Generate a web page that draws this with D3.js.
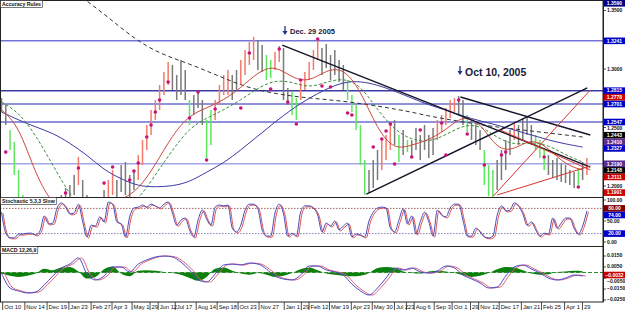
<!DOCTYPE html>
<html>
<head>
<meta charset="utf-8">
<script src="https://cdn.jsdelivr.net/npm/d3@7"></script>
<style>
  body { margin: 0; background: #fff; }
  svg text { font-family: "Liberation Sans", Arial, sans-serif; }
</style>
</head>
<body>
<svg id="chart" width="625" height="311"></svg>
<script>
// weekly price bars (high / low), one entry per bar
const highs = [1.2752,1.2692,1.2479,1.2376,1.2137,1.1923,1.1837,1.1752,1.1666,1.1692,
  1.1752,1.1795,1.1777,1.1880,1.1923,1.1983,1.2008,1.2094,1.2248,1.2051,
  1.1923,1.1880,1.1837,1.1880,1.1966,1.2051,1.2137,1.2051,1.2179,1.2205,
  1.2094,1.2137,1.2265,1.2393,1.2521,1.2650,1.2735,1.2863,1.2974,1.3060,
  1.3034,1.2949,1.3077,1.2992,1.2735,1.2778,1.2803,1.2735,1.2564,1.2650,
  1.2735,1.2863,1.2949,1.2992,1.2949,1.2992,1.3077,1.3163,1.3231,1.3274,
  1.3248,1.3205,1.3120,1.3077,1.3145,1.3197,1.3180,1.2838,1.2803,1.2752,
  1.2889,1.2974,1.3060,1.3163,1.3248,1.3180,1.3214,1.3120,1.3163,1.3077,
  1.3034,1.2906,1.2778,1.2692,1.2521,1.2222,1.2137,1.2222,1.2308,1.2393,
  1.2436,1.2521,1.2564,1.2436,1.2479,1.2393,1.2393,1.2496,1.2436,1.2521,
  1.2436,1.2496,1.2564,1.2607,1.2667,1.2735,1.2752,1.2769,1.2735,1.2607,
  1.2564,1.2521,1.2479,1.2308,1.2179,1.2137,1.2222,1.2308,1.2393,1.2479,
  1.2547,1.2521,1.2581,1.2590,1.2521,1.2436,1.2393,1.2308,1.2265,1.2222,
  1.2239,1.2196,1.2179,1.2137,1.2119,1.2154,1.2205,1.2239];
const lows = [1.2632,1.2521,1.2308,1.2094,1.1837,1.1709,1.1624,1.1538,1.1495,1.1521,
  1.1581,1.1624,1.1641,1.1709,1.1752,1.1837,1.1880,1.1923,1.2008,1.1837,
  1.1752,1.1666,1.1641,1.1709,1.1795,1.1880,1.1923,1.1906,1.1948,1.1923,
  1.1897,1.1966,1.2051,1.2179,1.2308,1.2436,1.2564,1.2650,1.2778,1.2863,
  1.2821,1.2735,1.2778,1.2735,1.2521,1.2607,1.2667,1.2521,1.2239,1.2350,
  1.2564,1.2692,1.2778,1.2778,1.2735,1.2821,1.2863,1.2949,1.3034,1.3077,
  1.2992,1.2974,1.2906,1.2923,1.2992,1.3060,1.2735,1.2692,1.2607,1.2564,
  1.2735,1.2821,1.2906,1.2992,1.3077,1.2949,1.3009,1.2906,1.2949,1.2889,
  1.2821,1.2735,1.2632,1.2479,1.2179,1.1923,1.1940,1.1983,1.2051,1.2137,
  1.2222,1.2308,1.2350,1.2205,1.2265,1.2290,1.2239,1.2308,1.2222,1.2308,
  1.2239,1.2265,1.2393,1.2461,1.2521,1.2581,1.2632,1.2607,1.2521,1.2461,
  1.2393,1.2350,1.2308,1.2008,1.1914,1.1906,1.1966,1.2051,1.2137,1.2265,
  1.2393,1.2350,1.2393,1.2436,1.2350,1.2308,1.2239,1.2137,1.2094,1.2068,
  1.2051,1.2034,1.2025,1.2008,1.1983,1.2008,1.2051,1.2094];
// bar colouring: n = neutral, r = up run, g = down run
const trend = ('nnggg' + 'gggggnnnnn' + 'nnnr' + 'nnnnnn' + 'rr' + 'nnnnn' + 'rrrrrrrr' +
  'nnnng' + 'nnngg' + 'rrrrnn' + 'rrrrnn' + 'ggrrnn' + 'ggrrrrr' + 'nnnnnn' + 'ggggg' +
  'nnnrrr' + 'ngng' + 'nnnnnn' + 'rrrrr' + 'nng' + 'nnnggg' + 'nnnnr' + 'nnnnggg' +
  'nnnnnnn' + 'gnr').split('');

// moving averages, one value every 4 bars
const maLong = [1.4189,1.4060,1.3932,1.3821,1.3693,1.3581,1.3470,1.3351,1.3239,1.3154,
  1.3094,1.3043,1.2983,1.2923,1.2863,1.2821,1.2791,1.2769,1.2752,1.2739,
  1.2724,1.2705,1.2684,1.2658,1.2632,1.2598,1.2573,1.2547,1.2526,1.2504,
  1.2487,1.2470,1.2453,1.2436,1.2419];
const maBlue = [1.2632,1.2564,1.2504,1.2453,1.2367,1.2265,1.2137,1.2060,1.1999,1.1991,
  1.1999,1.2034,1.2119,1.2196,1.2308,1.2427,1.2547,1.2658,1.2752,1.2829,
  1.2889,1.2897,1.2863,1.2812,1.2752,1.2692,1.2650,1.2598,1.2556,1.2521,
  1.2479,1.2436,1.2393,1.2359,1.2333];
const maRed = [1.2650,1.2521,1.2094,1.1837,1.1752,1.1795,1.1837,1.1880,1.1966,1.2179,
  1.2436,1.2607,1.2667,1.2735,1.2838,1.2974,1.3034,1.2923,1.2889,1.2992,
  1.3009,1.2821,1.2479,1.2308,1.2350,1.2393,1.2479,1.2607,1.2547,1.2308,
  1.2308,1.2410,1.2325,1.2179,1.2137];
const maGreen = [1.2718,1.2632,1.2436,1.2179,1.1923,1.1752,1.1752,1.1795,1.1880,1.2094,
  1.2308,1.2496,1.2581,1.2650,1.2735,1.2838,1.2906,1.2889,1.2838,1.2889,
  1.2923,1.2863,1.2650,1.2479,1.2393,1.2376,1.2436,1.2521,1.2521,1.2410,
  1.2350,1.2376,1.2350,1.2265,1.2205];

// fractal dots
const dotBars = [1,15,18,24,26,30,31,32,34,35,36,37,39,44,46,48,50,56,58,63,65,67,69,70,
  74,75,77,81,82,87,89,90,91,92,96,98,103,104,107,109,113,117,118,127,135];
const dotPrices = [1.2290,1.1940,1.2154,1.2025,1.2162,1.2051,1.2128,1.2196,1.2419,1.2521,
  1.2632,1.2735,1.2889,1.2581,1.2803,1.2222,1.2658,1.2667,1.3137,1.2829,1.3171,1.2718,
  1.2530,1.2906,1.3257,1.2855,1.2846,1.2624,1.2607,1.2333,1.2402,1.2470,1.2530,1.2188,
  1.2248,1.2479,1.2538,1.2265,1.2735,1.2444,1.2179,1.2265,1.2290,1.2248,1.1991];

// horizontal levels and trend lines [bar, price, bar, price]
const levels = [1.3241, 1.2815, 1.2701, 1.2547, 1.2190];
const blackTrends = [[65.7,1.3205,137.8,1.2162],[107.4,1.2761,137.8,1.2436],[85.4,1.1931,137.1,1.2838]];
const redTrends = [[115.1,1.1914,137.8,1.2821],[116.7,1.2479,137.8,1.2137],[116,1.1923,137.8,1.2171]];

// price axis
const priceTicks = [1.35, 1.30, 1.25, 1.20];
const priceMarks = [1.3590,1.3241,1.2815,1.2778,1.2701,1.2547,1.2443,1.2410,1.2327,1.2190,1.2148,1.2111,1.1991];

// stochastic %K, one value per bar
const stoch = [71,21,10,10,19,19,21,21,17,26,62,43,45,81,93,83,67,69,90,48,
  12,40,38,60,48,95,90,48,43,12,60,81,83,88,83,90,86,81,90,95,
  69,40,52,57,29,12,52,76,55,40,83,88,86,88,33,24,40,76,90,90,
  79,29,14,14,69,90,67,14,21,14,71,86,86,81,64,24,45,38,50,29,
  38,45,12,19,17,12,50,71,81,83,81,33,24,52,79,43,62,19,48,71,
  48,14,76,64,60,81,90,90,52,14,14,33,24,12,10,14,64,86,74,76,
  93,86,67,40,48,29,14,21,19,57,33,45,57,57,33,19,38,74];
const stochTicks = [100, 50, 0];
const stochLevels = [80, 20];

// MACD and OsMA, one value every 2 bars
const macd = [-0.0005,-0.0141,-0.0168,-0.0186,-0.0177,-0.0114,-0.0032,0.0041,0.0077,0.0132,
  -0.0014,-0.0068,-0.0032,0.0050,0.0050,0.0005,0.0077,0.0114,0.0141,0.0150,
  0.0141,0.0095,0.0023,-0.0068,-0.0086,-0.0014,0.0068,0.0077,0.0068,0.0086,
  0.0077,0.0032,-0.0032,-0.0059,-0.0068,-0.0023,0.0059,0.0059,0.0023,0.0005,
  -0.0023,-0.0105,-0.0168,-0.0205,-0.0141,-0.0050,0.0041,0.0023,0.0041,0.0005,
  -0.0005,0.0014,0.0059,0.0041,-0.0023,-0.0059,-0.0095,-0.0141,-0.0132,-0.0032,
  0.0050,0.0068,0.0032,-0.0005,-0.0050,-0.0068,-0.0050,-0.0023,-0.0032];
const osma = [-0.0010,-0.0030,-0.0040,-0.0030,-0.0010,0.0035,0.0020,0.0045,0.0050,0.0010,
  -0.0055,-0.0040,0.0030,0.0055,-0.0010,-0.0035,0.0015,0.0020,0.0015,0.0005,
  -0.0005,-0.0020,-0.0050,-0.0075,-0.0040,0.0035,0.0045,0.0015,-0.0010,-0.0020,
  -0.0005,-0.0020,-0.0040,-0.0030,-0.0005,0.0030,0.0045,0.0020,-0.0010,-0.0020,
  -0.0030,-0.0035,-0.0030,-0.0005,0.0040,0.0050,0.0040,0.0010,-0.0005,-0.0010,
  0.0010,0.0015,0.0010,-0.0005,-0.0025,-0.0040,-0.0030,-0.0005,0.0030,0.0050,
  0.0045,0.0020,-0.0010,-0.0020,-0.0015,0.0005,0.0010,0.0015,0.0012];
const macdTicks = [0.015, 0.005, -0.005, -0.015, -0.025];

// date axis
const dateLabels = ['Oct 10','Nov 14','Dec 19','Jan 23','Feb 27','Apr 3','May 1','29','Jun 12','Jul 17',
  'Aug 14','Sep 18','Oct 23','Nov 27','Jan 1','29','Feb 12','Mar 19','Apr 23','May 30',
  'Jul 2','23','Aug 6','Sep 3','Oct 1','29','Nov 12','Dec 17','Jan 21','Feb 25','Apr 1','29'];
const dateBars = [0.5,5.7,10.9,16,21.2,26.1,30.8,35.0,36.9,40.9,45.8,50.7,55.6,60.5,66.4,70.4,
  72.2,77,82.1,87,92.2,95,96.8,101.5,105.7,110.0,111.9,116.7,121.9,126.6,132,136.2];

const svg = d3.select('#chart');
const axisX = 603;
const main = {top: 0, bottom: 197}, stp = {top: 197, bottom: 246}, mp = {top: 246, bottom: 302};

const x = d3.scaleLinear().domain([0, 137]).range([1.5, 586.9]);
const y = d3.scaleLinear().domain([1.1906, 1.3590]).range([main.bottom, main.top]);
const ys = d3.scaleLinear().domain([0, 100]).range([242, 200]);
const ym = d3.scaleLinear().domain([-0.01, 0.01]).range([283.5, 261.5]);

const defs = svg.append('defs');
[['clipMain', main], ['clipStoch', stp], ['clipMacd', mp]].forEach(([id, p]) => {
  defs.append('clipPath').attr('id', id).append('rect')
    .attr('x', 0).attr('y', p.top).attr('width', axisX).attr('height', p.bottom - p.top);
});

svg.append('rect').attr('width', 625).attr('height', 311).attr('fill', '#fff');

// ---------- main panel ----------
const g = svg.append('g').attr('clip-path', 'url(#clipMain)');
const levelColors = ['#7474d8', '#3c3ca4', '#6c6cd0', '#6c6cd0', '#a4a4e8'];
g.selectAll('.level').data(levels).enter().append('line')
  .attr('x1', 0).attr('x2', axisX)
  .attr('y1', d => y(d)).attr('y2', d => y(d))
  .attr('stroke', (d, i) => levelColors[i]).attr('stroke-width', 1.5);

const barColor = {n: '#7a7a7a', r: '#f27a6a', g: '#5fe65f'};
g.selectAll('.bar').data(highs).enter().append('line')
  .attr('x1', (d, i) => x(i)).attr('x2', (d, i) => x(i))
  .attr('y1', d => y(d)).attr('y2', (d, i) => y(lows[i]))
  .attr('stroke', (d, i) => barColor[trend[i]] || barColor.n)
  .attr('stroke-width', 1.5);

const maLine = d3.line().x((d, i) => x(i * 4)).y(d => y(d)).curve(d3.curveBasis);
g.append('path').attr('d', maLine(maLong)).attr('fill', 'none')
  .attr('stroke', '#333').attr('stroke-width', 1).attr('stroke-dasharray', '4,3');
g.append('path').attr('d', maLine(maBlue)).attr('fill', 'none')
  .attr('stroke', '#3b3ba6').attr('stroke-width', 1);
g.append('path').attr('d', maLine(maGreen)).attr('fill', 'none')
  .attr('stroke', '#3a8c3a').attr('stroke-width', 1).attr('stroke-dasharray', '3,2');
g.append('path').attr('d', maLine(maRed)).attr('fill', 'none')
  .attr('stroke', '#cc4a3c').attr('stroke-width', 1);

g.selectAll('.tl').data(blackTrends).enter().append('line')
  .attr('x1', d => x(d[0])).attr('y1', d => y(d[1]))
  .attr('x2', d => x(d[2])).attr('y2', d => y(d[3]))
  .attr('stroke', '#15152a').attr('stroke-width', 1.4);
g.selectAll('.tr').data(redTrends).enter().append('line')
  .attr('x1', d => x(d[0])).attr('y1', d => y(d[1]))
  .attr('x2', d => x(d[2])).attr('y2', d => y(d[3]))
  .attr('stroke', '#d8342c').attr('stroke-width', 1);

g.selectAll('.dot').data(dotBars).enter().append('circle')
  .attr('cx', d => x(d)).attr('cy', (d, i) => y(dotPrices[i]))
  .attr('r', 1.8).attr('fill', '#c8127a');

// annotations
function arrow(cx, top) {
  svg.append('line').attr('x1', cx).attr('x2', cx).attr('y1', top).attr('y2', top + 6)
    .attr('stroke', '#1c2c8c').attr('stroke-width', 1.3);
  svg.append('path').attr('d', `M${cx - 2.5},${top + 5} L${cx + 2.5},${top + 5} L${cx},${top + 9} Z`)
    .attr('fill', '#1c2c8c');
}
arrow(285, 26);
svg.append('text').attr('x', 290).attr('y', 34).text('Dec. 29 2005')
  .attr('font-size', 7.5).attr('font-weight', 'bold').attr('fill', '#1a1a3a');
arrow(460, 66);
svg.append('text').attr('x', 465).attr('y', 76).text('Oct 10, 2005')
  .attr('font-size', 10.5).attr('font-weight', 'bold').attr('fill', '#1a1a3a');

// ---------- stochastic ----------
const gs = svg.append('g').attr('clip-path', 'url(#clipStoch)');
gs.selectAll('.sl').data(stochLevels).enter().append('line')
  .attr('x1', 0).attr('x2', axisX).attr('y1', d => ys(d)).attr('y2', d => ys(d))
  .attr('stroke', (d, i) => i === 0 ? '#8a3a3a' : '#5a5aa8').attr('stroke-width', 0.8)
  .attr('stroke-dasharray', '1.5,1.5');
const stLine = d3.line().x((d, i) => x(i)).y(d => ys(d)).curve(d3.curveMonotoneX);
gs.append('path').attr('d', stLine(stoch)).attr('fill', 'none')
  .attr('stroke', '#e05050').attr('stroke-width', 1).attr('transform', 'translate(1.5,1)');
gs.append('path').attr('d', stLine(stoch)).attr('fill', 'none')
  .attr('stroke', '#4848b8').attr('stroke-width', 1);

// ---------- MACD ----------
const gm = svg.append('g').attr('clip-path', 'url(#clipMacd)');
const hist = d3.area().x((d, i) => x(i * 2)).y0(ym(0)).y1(d => ym(d)).curve(d3.curveMonotoneX);
gm.append('path').attr('d', hist(osma)).attr('fill', '#0a800a');
gm.append('line').attr('x1', 0).attr('x2', axisX).attr('y1', ym(0)).attr('y2', ym(0))
  .attr('stroke', '#2e8a2e').attr('stroke-width', 1).attr('stroke-dasharray', '4,2');
const mLine = d3.line().x((d, i) => x(i * 2)).y(d => ym(d)).curve(d3.curveMonotoneX);
gm.append('path').attr('d', mLine(macd)).attr('fill', 'none')
  .attr('stroke', '#e06070').attr('stroke-width', 1).attr('transform', 'translate(3,0)');
gm.append('path').attr('d', mLine(macd)).attr('fill', 'none')
  .attr('stroke', '#4a4acc').attr('stroke-width', 1);

// ---------- frames ----------
svg.append('rect').attr('x', 0.5).attr('y', 0.5).attr('width', axisX - 0.5).attr('height', mp.bottom - 0.5)
  .attr('fill', 'none').attr('stroke', '#222').attr('stroke-width', 1);
[stp.top, mp.top].forEach(v => svg.append('line').attr('x1', 0).attr('x2', axisX)
  .attr('y1', v + 0.5).attr('y2', v + 0.5).attr('stroke', '#222').attr('stroke-width', 1));

function tagBox(xp, yp, label) {
  const r = svg.append('rect').attr('x', xp).attr('y', yp).attr('height', 7)
    .attr('fill', '#fff').attr('stroke', '#222').attr('stroke-width', 0.6);
  const t = svg.append('text').attr('x', xp + 1.5).attr('y', yp + 5.5).text(label)
    .attr('font-size', 5.2).attr('font-weight', 'bold').attr('fill', '#111');
  r.attr('width', t.node().getComputedTextLength() + 3);
}
tagBox(0.5, 0.5, 'Accuracy Rules');
tagBox(0.5, stp.top + 0.5, 'Stochastic 5,3,3 Slow');
tagBox(0.5, mp.top + 0.5, 'MACD 12,26,9');

// ---------- right axis ----------
const ax = svg.append('g').attr('font-size', 5).attr('fill', '#111');
ax.append('line').attr('x1', axisX + 0.5).attr('x2', axisX + 0.5).attr('y1', 0).attr('y2', mp.bottom)
  .attr('stroke', '#222');

// collect tick texts and value boxes per panel, then spread them so none overlap
function drawAxisItems(items, top, bottom) {
  items.sort((a, b) => a.y - b.y);
  let prev = top - 10;
  items.forEach(it => { it.ly = Math.max(it.y, prev + 6.6, top + 3.3); prev = it.ly; });
  const over = prev - (bottom - 3);
  if (over > 0) items.forEach(it => { it.ly -= over; });
  items.forEach(it => {
    if (it.fill) {
      ax.append('rect').attr('x', axisX + 1).attr('y', it.ly - 3.3).attr('width', 21).attr('height', 6.6)
        .attr('fill', it.fill);
      ax.append('text').attr('x', axisX + 11.5).attr('y', it.ly + 1.8).attr('text-anchor', 'middle')
        .text(it.text).attr('fill', '#fff').attr('font-weight', 'bold');
    } else {
      ax.append('line').attr('x1', axisX).attr('x2', axisX + 3)
        .attr('y1', it.y).attr('y2', it.y).attr('stroke', '#222').attr('stroke-width', 0.8);
      ax.append('text').attr('x', axisX + 4).attr('y', it.ly + 1.8).text(it.text)
        .attr('font-weight', 'bold');
    }
  });
}

const markColors = ['#000080','#0000c8','#0000c8','#c80000','#0000c8','#0000c8','#000',
  '#5a2d91','#0000c8','#5a2d91','#000','#c80000','#c80000'];
const f4 = d3.format('.4f'), f2 = d3.format('.2f');
drawAxisItems(
  priceTicks.map(v => ({y: y(v), text: f4(v)}))
    .concat(priceMarks.map((p, i) => ({y: y(p), text: f4(p), fill: markColors[i]}))),
  main.top, main.bottom);
const lastK = stoch[stoch.length - 1];
drawAxisItems(
  stochTicks.map(v => ({y: ys(v), text: f2(v)})).concat([
    {y: ys(80), text: '80.00', fill: '#800000'},
    {y: ys(lastK), text: f2(lastK), fill: '#0000c8'},
    {y: ys(20), text: '20.00', fill: '#0000c8'}]),
  stp.top, stp.bottom);
const lastM = macd[macd.length - 1];
drawAxisItems(
  macdTicks.map(v => ({y: ym(v), text: f4(v)})).concat([
    {y: ym(lastM), text: f4(lastM), fill: '#c80000'}]),
  mp.top, mp.bottom);

// ---------- date axis ----------
const da = svg.append('g').attr('font-size', 5.8).attr('fill', '#111');
dateBars.forEach((b, i) => {
  da.append('line').attr('x1', x(b) - 1).attr('x2', x(b) - 1).attr('y1', mp.bottom).attr('y2', 310)
    .attr('stroke', '#222').attr('stroke-width', 0.8);
  da.append('text').attr('x', x(b) + 0.5).attr('y', 308.5).text(dateLabels[i]);
});
</script>
</body>
</html>
